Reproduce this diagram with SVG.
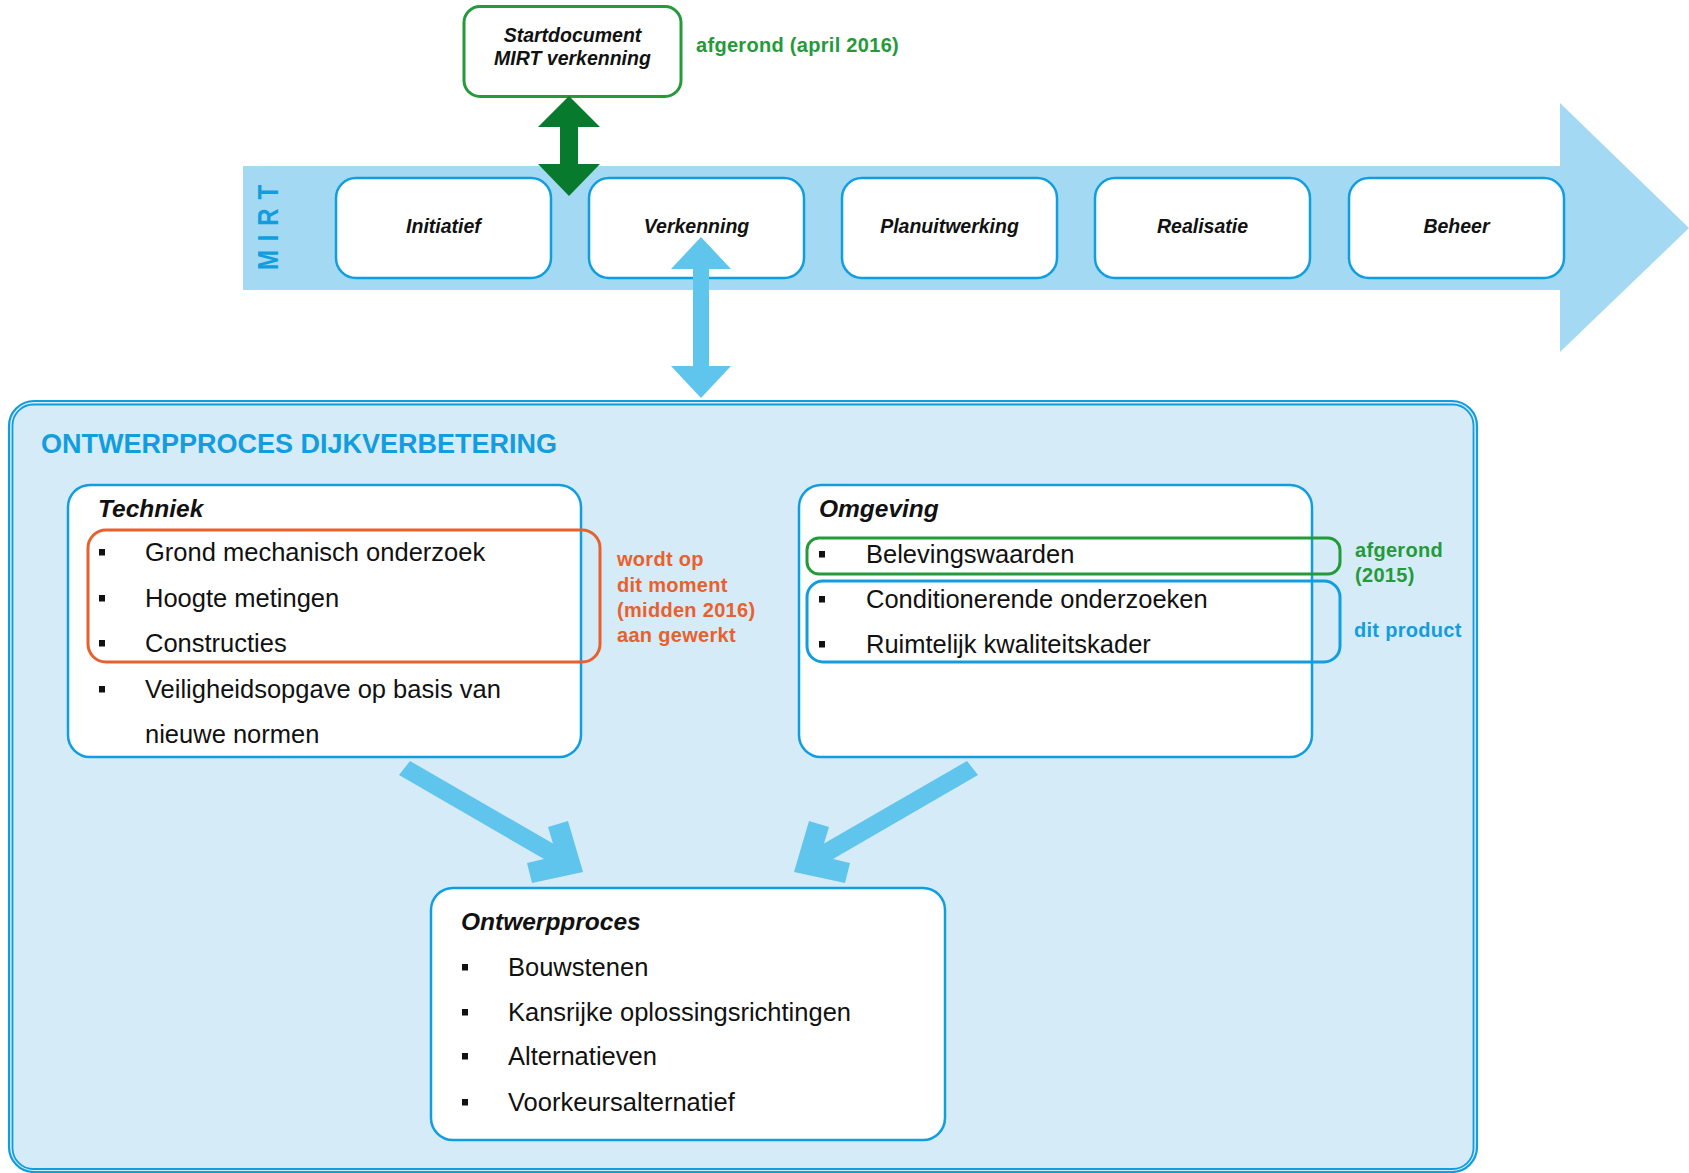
<svg xmlns="http://www.w3.org/2000/svg" width="1689" height="1173" viewBox="0 0 1689 1173">
<style>
text{font-family:"Liberation Sans",Arial,sans-serif}
.box{fill:#fff;stroke:#109ee0;stroke-width:2.5}
.step{font-size:19.5px;font-weight:bold;font-style:italic;fill:#111;text-anchor:middle}
.head{font-size:24.5px;font-weight:bold;font-style:italic;fill:#111}
.item{font-size:25.5px;fill:#111}
.bul{fill:#111}
.note{font-size:20px;font-weight:bold;letter-spacing:0.3px}
.green{fill:#259a3a}
.orange{fill:#e8612c}
.blue{fill:#129ddf}
.arr{fill:#60c5ec}
</style>
<defs>
<rect id="b" class="bul" width="6" height="6.5"/>
</defs>

<!-- MIRT band arrow -->
<polygon points="243,166 1560,166 1560,103 1689,228 1560,352 1560,290 243,290" fill="#a3d9f2"/>
<text transform="translate(278,270) rotate(-90) scale(1,1.2)" font-size="24" font-weight="bold" letter-spacing="8.8" fill="#129ddf">MIRT</text>

<!-- outer container -->
<g id="ontwerpproces-dijkverbetering">
<rect x="9" y="401" width="1468" height="771" rx="25" fill="#d5ebf8" stroke="#129ddf" stroke-width="2.2"/>
<rect x="12.5" y="404.5" width="1461" height="764.5" rx="21" fill="none" stroke="#129ddf" stroke-width="1.8"/>
<text x="41" y="453" font-size="27" font-weight="bold" fill="#129ddf">ONTWERPPROCES DIJKVERBETERING</text>
</g>

<g id="startdocument">
<rect x="464" y="6.5" width="217" height="90" rx="16" fill="#fff" stroke="#259a3a" stroke-width="3"/>
<text class="step" x="572.5" y="42">Startdocument</text>
<text class="step" x="572.5" y="65">MIRT verkenning</text>
<text class="note green" x="696" y="52">afgerond (april 2016)</text>
</g>

<g id="initiatief"><rect class="box" x="336" y="178" width="215" height="100" rx="20"/><text class="step" x="443.5" y="233">Initiatief</text></g>
<g id="verkenning"><rect class="box" x="589" y="178" width="215" height="100" rx="20"/><text class="step" x="696.5" y="233">Verkenning</text></g>
<g id="planuitwerking"><rect class="box" x="842" y="178" width="215" height="100" rx="20"/><text class="step" x="949.5" y="233">Planuitwerking</text></g>
<g id="realisatie"><rect class="box" x="1095" y="178" width="215" height="100" rx="20"/><text class="step" x="1202.5" y="233">Realisatie</text></g>
<g id="beheer"><rect class="box" x="1349" y="178" width="215" height="100" rx="20"/><text class="step" x="1456.5" y="233">Beheer</text></g>

<g id="techniek">
<rect class="box" x="68" y="485" width="513" height="272" rx="22"/>
<text class="head" x="98" y="517">Techniek</text>
<rect x="88" y="530" width="512" height="132" rx="18" fill="none" stroke="#e8612c" stroke-width="3"/>
<use href="#b" x="99" y="549"/><text class="item" x="145" y="561">Grond mechanisch onderzoek</text>
<use href="#b" x="99" y="595"/><text class="item" x="145" y="607">Hoogte metingen</text>
<use href="#b" x="99" y="640"/><text class="item" x="145" y="652">Constructies</text>
<use href="#b" x="99" y="686"/><text class="item" x="145" y="698">Veiligheidsopgave op basis van</text>
<text class="item" x="145" y="743">nieuwe normen</text>
<text class="note orange" x="617" y="566">wordt op</text>
<text class="note orange" x="617" y="592">dit moment</text>
<text class="note orange" x="617" y="617">(midden 2016)</text>
<text class="note orange" x="617" y="642">aan gewerkt</text>
</g>

<g id="omgeving">
<rect class="box" x="799" y="485" width="513" height="272" rx="22"/>
<text class="head" x="819" y="517">Omgeving</text>
<rect x="807" y="538" width="533" height="36" rx="12" fill="none" stroke="#259a3a" stroke-width="3"/>
<rect x="807" y="581" width="533" height="81" rx="16" fill="none" stroke="#129ddf" stroke-width="3"/>
<use href="#b" x="819" y="551"/><text class="item" x="866" y="563">Belevingswaarden</text>
<use href="#b" x="819" y="596"/><text class="item" x="866" y="608">Conditionerende onderzoeken</text>
<use href="#b" x="819" y="641"/><text class="item" x="866" y="653">Ruimtelijk kwaliteitskader</text>
<text class="note green" x="1355" y="557">afgerond</text>
<text class="note green" x="1355" y="582">(2015)</text>
<text class="note blue" x="1354" y="637">dit product</text>
</g>

<g id="ontwerpproces">
<rect class="box" x="431" y="888" width="514" height="252" rx="22"/>
<text class="head" x="461" y="930">Ontwerpproces</text>
<use href="#b" x="462" y="964"/><text class="item" x="508" y="976">Bouwstenen</text>
<use href="#b" x="462" y="1009"/><text class="item" x="508" y="1021">Kansrijke oplossingsrichtingen</text>
<use href="#b" x="462" y="1053"/><text class="item" x="508" y="1065">Alternatieven</text>
<use href="#b" x="462" y="1099"/><text class="item" x="508" y="1111">Voorkeursalternatief</text>
</g>

<g id="connectors">
<polygon points="569,96 600,127 578,127 578,164 600,164 569,196 538,164 560,164 560,127 538,127" fill="#087a2d"/>
<polygon class="arr" points="701,237 731,269 709,269 709,366 731,366 701,398 671,366 693,366 693,269 671,269"/>
<polygon class="arr" points="410,761 553,843.5 548,827 568,821 583,872 532,883 527,863 544,859 399,775"/>
<polygon class="arr" points="967,761 824,843.5 829,827 809,821 794,872 845,883 850,863 833,859 978,775"/>
</g>
</svg>
